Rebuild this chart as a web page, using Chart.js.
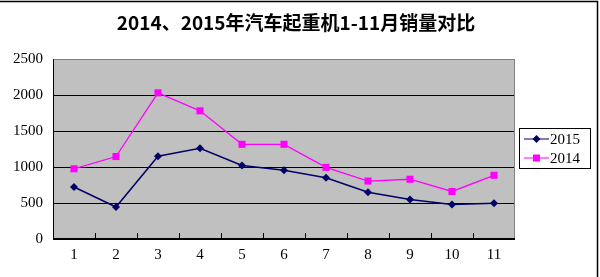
<!DOCTYPE html>
<html>
<head>
<meta charset="utf-8">
<script src="https://cdn.jsdelivr.net/npm/chart.js@4/dist/chart.umd.min.js"></script>
<style>
  body { margin: 0; background: #fff; }
  #wrap { width: 600px; height: 277px; position: relative; }
</style>
</head>
<body>
<div id="wrap"><canvas id="c"></canvas></div>
<script>
var months = ['1','2','3','4','5','6','7','8','9','10','11'];
var sales2015 = [722, 444, 1150, 1260, 1020, 955, 850, 650, 550, 480, 495];
var sales2014 = [975, 1145, 2030, 1780, 1315, 1315, 995, 805, 830, 660, 885];
var yTicks = [0, 500, 1000, 1500, 2000, 2500];
var chartTitle = '2014、2015年汽车起重机1-11月销量对比';

var serif = '"Liberation Serif", "DejaVu Serif", serif';

// grey plot background + frame + inward x ticks + title
const plotArea = {
    id: 'plotArea',
    beforeDraw(chart) {
        const {ctx, chartArea: {left, top, right, bottom}} = chart;
        ctx.save();
        ctx.fillStyle = '#fff';
        ctx.fillRect(0, 0, chart.width, chart.height);
        ctx.fillStyle = '#c0c0c0';
        ctx.fillRect(left, top, right - left, bottom - top);
        // outer chart border (top & right visible)
        ctx.strokeStyle = '#000';
        ctx.lineWidth = 1.5;
        ctx.beginPath();
        ctx.moveTo(0, 1.5);
        ctx.lineTo(597.5, 1.5);
        ctx.lineTo(597.5, chart.height);
        ctx.stroke();
        // title
        ctx.fillStyle = '#000';
        ctx.font = 'bold 19px "Noto Sans CJK SC", ' + serif;
        ctx.textAlign = 'center';
        ctx.textBaseline = 'middle';
        ctx.fillText(chartTitle, 296, 23);
        ctx.restore();
    },
    afterDatasetsDraw(chart) {
        const {ctx, chartArea: {left, top, right, bottom}} = chart;
        ctx.save();
        ctx.strokeStyle = '#808080';
        ctx.lineWidth = 1;
        ctx.strokeRect(left + 0.5, top + 0.5, right - left - 1, bottom - top - 1);
        ctx.strokeStyle = '#000';
        ctx.beginPath();
        ctx.moveTo(left + 0.5, top);
        ctx.lineTo(left + 0.5, bottom);
        ctx.moveTo(left, bottom - 0.5);
        ctx.lineTo(right, bottom - 0.5);
        var w = (right - left) / months.length;
        for (var i = 1; i < months.length; i++) {
            var x = Math.round(left + w * i) + 0.5;
            ctx.moveTo(x, bottom);
            ctx.lineTo(x, bottom - 6);
        }
        ctx.stroke();
        ctx.restore();
    }
};

// excel-like legend box with line + marker
const boxLegend = {
    id: 'boxLegend',
    afterDraw(chart) {
        const ctx = chart.ctx;
        var bx = 519, by = 128, bw = 71, bh = 40;
        ctx.save();
        ctx.fillStyle = '#fff';
        ctx.fillRect(bx, by, bw, bh);
        ctx.strokeStyle = '#000';
        ctx.lineWidth = 1;
        ctx.strokeRect(bx + 0.5, by + 0.5, bw, bh);
        chart.data.datasets.forEach(function(ds, i) {
            var y = by + 11 + i * 19;
            ctx.strokeStyle = ds.borderColor;
            ctx.lineWidth = 1;
            ctx.beginPath();
            ctx.moveTo(bx + 5, y);
            ctx.lineTo(bx + 30, y);
            ctx.stroke();
            ctx.fillStyle = ds.backgroundColor;
            if (ds.pointStyle === 'rect') {
                ctx.fillRect(bx + 14, y - 3.5, 7, 7);
            } else {
                ctx.beginPath();
                ctx.moveTo(bx + 17.5, y - 4);
                ctx.lineTo(bx + 21.5, y);
                ctx.lineTo(bx + 17.5, y + 4);
                ctx.lineTo(bx + 13.5, y);
                ctx.closePath();
                ctx.fill();
            }
            ctx.fillStyle = '#000';
            ctx.font = '15px ' + serif;
            ctx.textBaseline = 'middle';
            ctx.textAlign = 'left';
            ctx.fillText(ds.label, bx + 31, y + 1);
        });
        ctx.restore();
    }
};

var config = {
    type: 'line',
    data: {
        labels: months,
        datasets: [{
            label: '2015',
            data: sales2015,
            borderColor: '#000066',
            backgroundColor: '#000066',
            borderWidth: 1.5,
            pointStyle: 'rectRot',
            pointRadius: 4,
            pointBorderWidth: 0,
            tension: 0
        }, {
            label: '2014',
            data: sales2014,
            borderColor: '#ff00ff',
            backgroundColor: '#ff00ff',
            borderWidth: 1.3,
            pointStyle: 'rect',
            pointRadius: 5,
            pointBorderWidth: 0,
            tension: 0
        }]
    },
    options: {
        responsive: true,
        maintainAspectRatio: false,
        animation: false,
        layout: { padding: { left: 0, right: 85, top: 59, bottom: 6 } },
        plugins: {
            legend: { display: false },
            tooltip: { enabled: false },
            title: { display: false }
        },
        scales: {
            x: {
                offset: true,
                grid: { display: false, drawTicks: false },
                border: { display: false },
                ticks: {
                    color: '#000',
                    font: { family: serif, size: 15 },
                    padding: 7,
                    maxRotation: 0
                }
            },
            y: {
                min: 0,
                max: 2500,
                afterBuildTicks: function(axis) {
                    axis.ticks = yTicks.map(function(v) { return { value: v }; });
                },
                afterFit: function(axis) { axis.width = 53; },
                grid: { color: '#000', lineWidth: 1, drawTicks: false },
                border: { display: false },
                ticks: {
                    color: '#000',
                    font: { family: serif, size: 15 },
                    padding: 10,
                    callback: function(v) { return String(v); }
                }
            }
        }
    },
    plugins: [plotArea, boxLegend]
};

var ctx = document.getElementById('c').getContext('2d');
window.salesChart = new Chart(ctx, config);
</script>
</body>
</html>
